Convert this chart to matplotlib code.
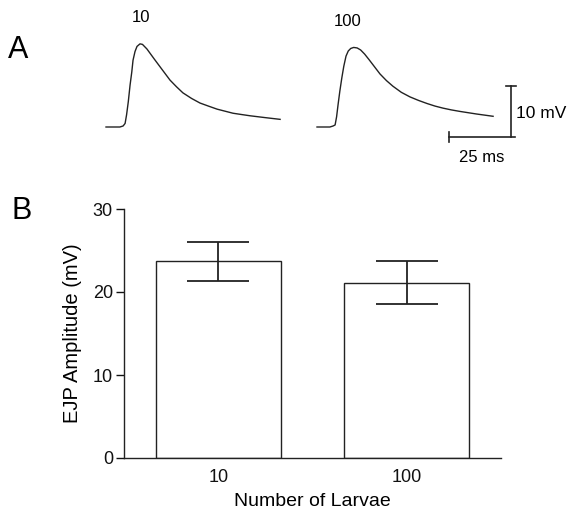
import matplotlib
matplotlib.use("Agg")
import matplotlib.pyplot as plt
import numpy as np

plt.rcParams['font.family'] = ['Liberation Sans', 'DejaVu Sans']

# Panel A: representative EJP traces (time in ms, voltage in mV above baseline)
trace_labels = ["10", "100"]
t_10 = [0, 5.6, 6.9, 7.7, 8.3, 9.0, 9.7, 10.4, 10.9, 11.7, 12.5, 13.7, 14.7, 15.7, 16.5,
        17.7, 19.5, 21.8, 23.8, 25.8, 28.4, 31.0, 34.5, 37.9, 41.3, 44.8, 48.0, 51.2,
        54.6, 58.1, 64.0, 70.2]
v_10 = [0, 0, 0.2, 0.7, 2.4, 5.0, 8.2, 10.8, 13.1, 14.8, 15.8, 16.3, 16.2, 15.7, 15.3,
        14.5, 13.3, 11.8, 10.5, 9.2, 7.9, 6.7, 5.6, 4.7, 4.1, 3.5, 3.1, 2.7,
        2.45, 2.2, 1.85, 1.5]
t_100 = [0, 5.2, 6.5, 7.3, 7.9, 8.5, 9.2, 10.0, 10.8, 11.7, 12.6, 13.6, 14.8, 16.2, 17.6,
         19.2, 21.0, 23.2, 25.4, 28.0, 30.6, 34.0, 37.5, 41.0, 44.4, 47.6, 50.8, 54.2,
         57.7, 64.3, 71.0]
v_100 = [0, 0, 0.2, 0.4, 2.0, 4.4, 7.0, 9.6, 11.9, 13.9, 14.9, 15.4, 15.6, 15.5, 15.1,
         14.3, 13.2, 11.8, 10.4, 9.1, 8.0, 6.8, 5.9, 5.2, 4.6, 4.1, 3.7, 3.35,
         3.05, 2.55, 2.1]
scale_ms = 25
scale_mv = 10

# Panel B: mean EJP amplitude
groups = ["10", "100"]
means = [23.7, 21.1]
sems = [2.35, 2.6]

W, H = 569, 512
fig = plt.figure(figsize=(W / 100, H / 100), dpi=100)

def fx(px):
    return px / W

def fy(py):
    return 1 - py / H

# --- panel A, axes mapped so that 2.48 px = 1 ms and 5.1 px = 1 mV
axA = fig.add_axes([0, fy(180), 1, 180 / H])
axA.axis('off')
axA.set_xlim(-106 / 2.48, (W - 106) / 2.48)
axA.set_ylim((127 - 180) / 5.1, 127 / 5.1)
col = '#222222'
offset2 = (317 - 106) / 2.48
axA.plot(t_10, v_10, color=col, lw=1.0, solid_joinstyle='round')
axA.plot(np.array(t_100) + offset2, v_100, color=col, lw=1.0, solid_joinstyle='round')

# scale bar
xb = (511 - 106) / 2.48
yb = (127 - 137) / 5.1
axA.plot([xb, xb], [yb, yb + scale_mv], color=col, lw=1.2)
axA.plot([xb - scale_ms, xb + 1.5], [yb, yb], color=col, lw=1.2)
axA.plot([xb - 2, xb + 2], [yb + scale_mv, yb + scale_mv], color=col, lw=1.2)
axA.plot([xb - scale_ms, xb - scale_ms], [yb - 1, yb + 1], color=col, lw=1.2)

fig.text(fx(18), fy(50), "A", fontsize=22, ha='center', va='center')
fig.text(fx(141), fy(17), trace_labels[0], fontsize=12, ha='center', va='center')
fig.text(fx(348), fy(21), trace_labels[1], fontsize=12, ha='center', va='center')
fig.text(fx(516), fy(113), f"{scale_mv} mV", fontsize=12.5, ha='left', va='center')
fig.text(fx(482), fy(157), f"{scale_ms} ms", fontsize=12, ha='center', va='center')
fig.text(fx(22), fy(211), "B", fontsize=22, ha='center', va='center')

# --- panel B
axB = fig.add_axes([fx(124), fy(458), (501 - 124) / W, (458 - 209) / H])
x = np.arange(len(groups))
axB.bar(x, means, width=0.665, color='white', edgecolor=col, linewidth=1.0)
axB.errorbar(x, means, yerr=sems, fmt='none', ecolor=col, elinewidth=1.3,
             capsize=22.5, capthick=1.3)
axB.set_xlim(-0.5, 1.5)
axB.set_ylim(0, 30)
axB.set_yticks([0, 10, 20, 30])
axB.set_xticks(x)
axB.set_xticklabels(groups)
axB.spines['top'].set_visible(False)
axB.spines['right'].set_visible(False)
for s in ['left', 'bottom']:
    axB.spines[s].set_color(col)
    axB.spines[s].set_linewidth(1.0)
axB.tick_params(axis='y', length=6, width=1.0, labelsize=13, colors='#111111', pad=2)
axB.tick_params(axis='x', length=0, labelsize=13, colors='#111111', pad=8)
axB.set_ylabel("EJP Amplitude (mV)", fontsize=14.5, labelpad=8)
axB.set_xlabel("Number of Larvae", fontsize=14, labelpad=5)

fig.savefig("out.png", dpi=100)
